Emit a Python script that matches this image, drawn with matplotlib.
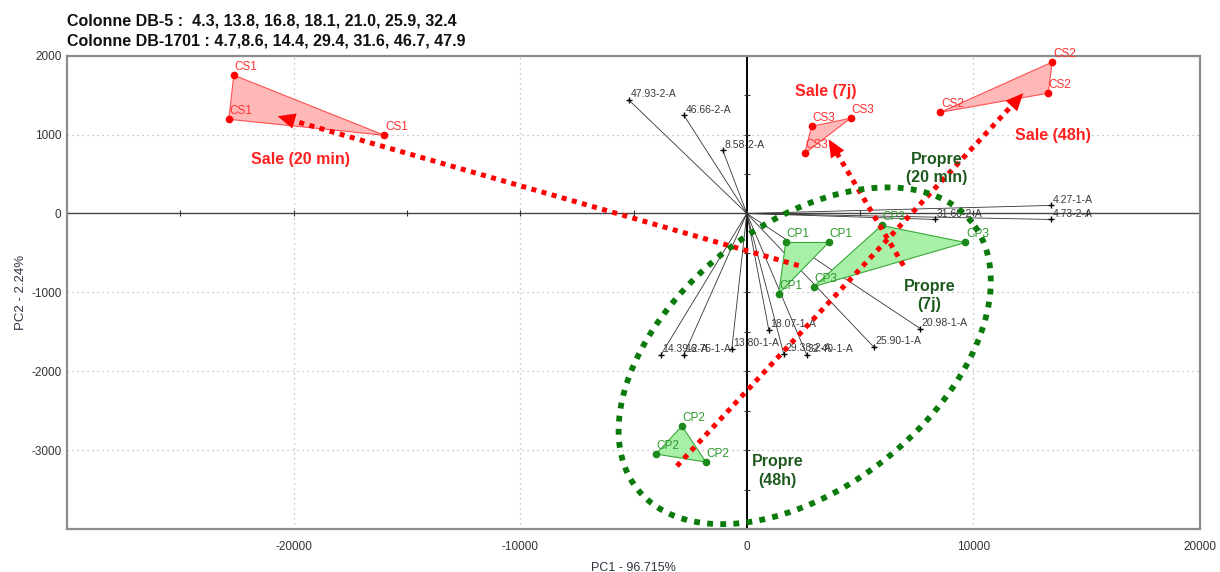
import numpy as np
import matplotlib
matplotlib.use("Agg")
import matplotlib.pyplot as plt
from matplotlib.patches import Polygon
from matplotlib import font_manager as fm


def has_font(name):
    try:
        fm.findfont(fm.FontProperties(family=name), fallback_to_default=False)
        return True
    except Exception:
        return False


NARROW = "Liberation Sans Narrow" if has_font("Liberation Sans Narrow") else "Liberation Sans"
MAIN = "Liberation Sans"

# ---------------- data ----------------
title_lines = [
    "Colonne DB-5 :  4.3, 13.8, 16.8, 18.1, 21.0, 25.9, 32.4",
    "Colonne DB-1701 : 4.7,8.6, 14.4, 29.4, 31.6, 46.7, 47.9",
]
x_label = "PC1 - 96.715%"
y_label = "PC2 - 2.24%"
x_ticks = [-20000, -10000, 0, 10000, 20000]
y_ticks = [-3000, -2000, -1000, 0, 1000, 2000]

# score groups (triangles)
cs1_x = [-22640, -22860, -15990]
cs1_y = [1753, 1194, 991]
cs2_x = [13480, 13300, 8546]
cs2_y = [1919, 1525, 1283]
cs3_x = [2863, 4581, 2555]
cs3_y = [1105, 1207, 762]
cp1_x = [1718, 3612, 1410]
cp1_y = [-368, -368, -1016]
cp2_x = [-2863, -4009, -1806]
cp2_y = [-2694, -3050, -3151]
cp3_x = [5947, 9648, 2951]
cp3_y = [-152, -368, -928]

groups = [
    ("CS1", cs1_x, cs1_y, "sale"),
    ("CS2", cs2_x, cs2_y, "sale"),
    ("CS3", cs3_x, cs3_y, "sale"),
    ("CP1", cp1_x, cp1_y, "propre"),
    ("CP2", cp2_x, cp2_y, "propre"),
    ("CP3", cp3_x, cp3_y, "propre"),
]

# loadings
load_labels = ["47.93-2-A", "46.66-2-A", "8.58-2-A", "4.27-1-A", "4.73-2-A",
               "31.60-2-A", "14.39-2-A", "16.75-1-A", "13.80-1-A", "18.07-1-A",
               "29.38-2-A", "32.40-1-A", "25.90-1-A", "20.98-1-A"]
load_x = [-5198, -2775, -1057, 13435, 13435, 8325, -3788, -2775, -661, 969,
          1630, 2643, 5594, 7665]
load_y = [1436, 1245, 800, 102, -76, -76, -1792, -1792, -1715, -1474,
          -1779, -1792, -1690, -1461]

# dirty-vs-clean arrows (start -> tip)
arrow_start_x = [2290, 6916, -3084]
arrow_start_y = [-661, -661, -3202]
arrow_tip_x = [-20705, 3612, 12203]
arrow_tip_y = [1233, 940, 1525]

# group captions
sale_texts = ["Sale (20 min)", "Sale (7j)", "Sale (48h)"]
sale_x = [-19692, 3480, 13524]
sale_y = [686, 1550, 991]
propre_texts = ["Propre\n(20 min)", "Propre\n(7j)", "Propre\n(48h)"]
propre_x = [8370, 8062, 1365]
propre_y = [572, -1042, -3266]

# ellipse around clean samples (center, conjugate half-axes)
ell_center = (2555, -1804)
ell_u = (7388, 1689)
ell_v = (-3586, 1305)

# ---------------- figure ----------------
W, H = 1220, 572
fig = plt.figure(figsize=(W / 100, H / 100), dpi=100)
ax = fig.add_axes([67 / W, 1 - 529 / H, (1200 - 67) / W, (529 - 55.7) / H])
ax.set_xlim(-30000, 20000)
ax.set_ylim(-4000, 2000)

for s in ax.spines.values():
    s.set_color("#8c8c8c")
    s.set_linewidth(1.6)

ax.set_xticks(x_ticks)
ax.set_yticks(y_ticks)
ax.set_xticklabels([str(t) for t in x_ticks])
ax.set_yticklabels([str(t) for t in y_ticks])
ax.tick_params(length=0, labelsize=8.5, colors="#333333")
ax.tick_params(axis="x", pad=9)
ax.tick_params(axis="y", pad=4)
for lab in ax.get_xticklabels() + ax.get_yticklabels():
    lab.set_fontfamily(NARROW)

ax.set_xlabel(x_label, fontsize=9, family=NARROW, color="#333344", labelpad=6)
ax.set_ylabel(y_label, fontsize=9.5, family=NARROW, color="#333344", labelpad=3)

# dotted grid at non-zero major ticks
for t in x_ticks:
    if t != 0:
        ax.axvline(t, color="#b5b5b5", lw=0.9, ls=(0, (1, 3)), zorder=0)
for t in y_ticks:
    if t != 0:
        ax.axhline(t, color="#b5b5b5", lw=0.9, ls=(0, (1, 3)), zorder=0)

# zero axes with small ticks
ax.axhline(0, color="#444444", lw=1.0, zorder=1)
ax.axvline(0, color="black", lw=1.4, zorder=1)
xt = np.arange(-30000, 20001, 5000)
yt = np.arange(-4000, 2001, 500)
ax.plot(xt, np.zeros_like(xt), ls="none", marker="|", ms=5, mew=0.8, color="#333333", zorder=1)
ax.plot(np.zeros_like(yt), yt, ls="none", marker="_", ms=5, mew=0.8, color="#333333", zorder=1)

# loadings
for lab, lx, ly in zip(load_labels, load_x, load_y):
    ax.plot([0, lx], [0, ly], color="#333333", lw=0.6, zorder=2)
    ax.plot(lx, ly, marker="+", ms=5, mew=1.0, color="black", zorder=3)
    ax.annotate(lab, (lx, ly), xytext=(1, 0.5), textcoords="offset points",
                ha="left", va="bottom", fontsize=7.5, family=NARROW, color="#3a3a3a",
                zorder=3)

# triangles
for name, gx, gy, kind in groups:
    if kind == "sale":
        face, edge, mk, tc = "#ffb8b8", "#ff5050", "#ff0000", "#ff3030"
    else:
        face, edge, mk, tc = "#a8efa8", "#38a838", "#1b8a1b", "#2e9a2e"
    poly = Polygon(np.column_stack([gx, gy]), closed=True, facecolor=face,
                   edgecolor=edge, lw=0.8, zorder=4)
    ax.add_patch(poly)
    ax.plot(gx, gy, ls="none", marker="o", ms=4.5, color=mk, zorder=5)
    for px, py in zip(gx, gy):
        ax.annotate(name, (px, py), xytext=(0.5, 1.5), textcoords="offset points",
                    ha="left", va="bottom", fontsize=8.5, family=NARROW,
                    color=tc, zorder=6)

# red dotted arrows
for sx, sy, tx, ty in zip(arrow_start_x, arrow_start_y, arrow_tip_x, arrow_tip_y):
    fx = sx + (tx - sx) * 0.97
    fy = sy + (ty - sy) * 0.97
    ax.plot([sx, fx], [sy, fy], color="#ff0000", lw=3.6, ls=(0, (1, 1.1)),
            solid_capstyle="butt", zorder=7)
    bx = sx + (tx - sx) * 0.9
    by = sy + (ty - sy) * 0.9
    ax.annotate("", xy=(tx, ty), xytext=(bx, by),
                arrowprops=dict(arrowstyle="-|>,head_length=0.9,head_width=0.4",
                                color="#ff0000", lw=0.01, mutation_scale=14,
                                shrinkA=0, shrinkB=0),
                zorder=7)

# green dotted ellipse
t = np.linspace(0, 2 * np.pi, 600)
ex = ell_center[0] + ell_u[0] * np.cos(t) + ell_v[0] * np.sin(t)
ey = ell_center[1] + ell_u[1] * np.cos(t) + ell_v[1] * np.sin(t)
ax.plot(ex, ey, color="#0a7a0a", lw=4.2, ls=(0, (1, 1.25)), zorder=8)

# captions
for txt, tx, ty in zip(sale_texts, sale_x, sale_y):
    ax.text(tx, ty, txt, color="#ff2020", fontsize=11.5, fontweight="bold",
            family=MAIN, ha="center", va="center", zorder=9)
for txt, tx, ty in zip(propre_texts, propre_x, propre_y):
    ax.text(tx, ty, txt, color="#1f5a1f", fontsize=11.5, fontweight="bold",
            family=MAIN, ha="center", va="center", linespacing=1.3, zorder=9)

# header
fig.text(67 / W, 1 - 21 / H, title_lines[0], fontsize=11.5, fontweight="bold",
         family=MAIN, ha="left", va="center", color="#111111")
fig.text(67 / W, 1 - 41 / H, title_lines[1], fontsize=11.5, fontweight="bold",
         family=MAIN, ha="left", va="center", color="#111111")

fig.savefig("out.png", dpi=100)
